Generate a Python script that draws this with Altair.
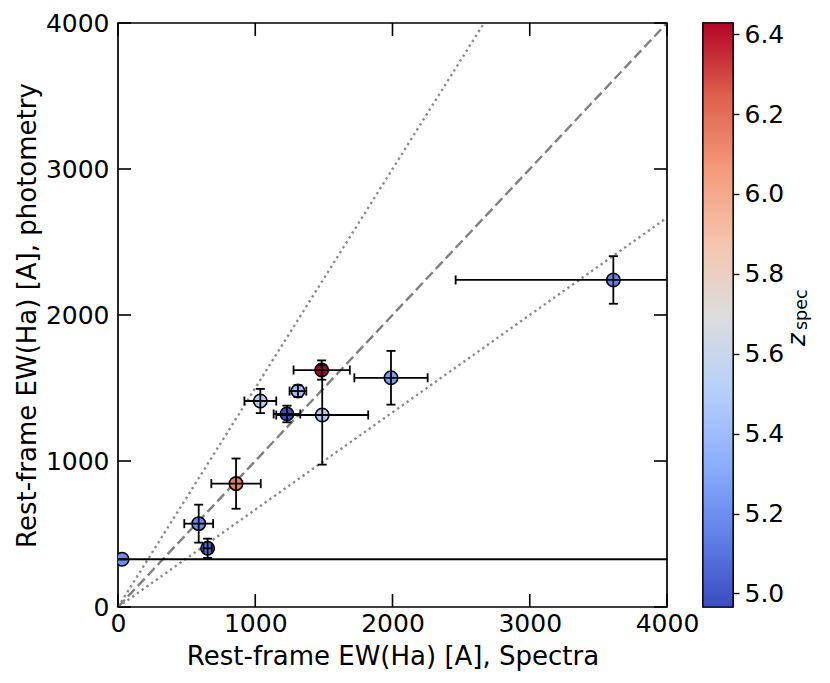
import altair as alt
import pandas as pd

# ---- data ----
ew_spec = [30, 653, 588, 860, 1037, 1231, 1311, 1484, 1488, 1989, 3609]
ew_phot = [327, 402, 571, 845, 1411, 1322, 1479, 1623, 1315, 1570, 2240]
ew_spec_err = [5000, 30, 105, 180, 116, 97, 61, 205, 335, 267, 1149]
ew_phot_err = [0, 66, 130, 172, 83, 57, 40, 66, 340, 184, 163]
z_spec = [5.19, 5.08, 5.18, 6.15, 5.50, 4.966, 5.40, 6.428, 5.49, 5.26, 5.16]

axis_ticks = [0, 1000, 2000, 3000, 4000]
cbar_ticks = [5.0, 5.2, 5.4, 5.6, 5.8, 6.0, 6.2, 6.4]
ratio_lines = [1.0, 1.5, 1 / 1.5]
line_styles = ["dashed", "dotted", "dotted"]
coolwarm = ["#3b4cc0", "#6282ea", "#8db0fe", "#b8d0f9", "#dddddd",
            "#f5c4ad", "#f49a7b", "#de604d", "#b40426"]

FONT = "DejaVu Sans"
FS = 25
TFS = 26
TICK = 13
LW = 1.8

df = pd.DataFrame({"x": ew_spec, "y": ew_phot, "xe": ew_spec_err,
                   "ye": ew_phot_err, "z": z_spec})
df["xlo"] = df["x"] - df["xe"]
df["xhi"] = df["x"] + df["xe"]
df["ylo"] = df["y"] - df["ye"]
df["yhi"] = df["y"] + df["ye"]

zmin, zmax = min(z_spec), max(z_spec)
stops = [i / (len(coolwarm) - 1) for i in range(len(coolwarm))]
cdomain = [zmin + s * (zmax - zmin) for s in stops]

xs = alt.Scale(domain=[0, 4000], nice=False, zero=False)
ys = alt.Scale(domain=[0, 4000], nice=False, zero=False)
xaxis = alt.Axis(values=axis_ticks, format="d", ticks=False, domain=False, grid=False,
                 labelFontSize=FS, labelPadding=4, labelFlush=False,
                 labelColor="black", title="Rest-frame EW(Ha) [A], Spectra",
                 titleFontSize=TFS, titleFontWeight="normal", titleColor="black",
                 titlePadding=7)
yaxis = alt.Axis(values=axis_ticks, format="d", ticks=False, domain=False, grid=False,
                 labelFontSize=FS, labelPadding=9, labelFlush=False,
                 labelColor="black", title="Rest-frame EW(Ha) [A], photometry",
                 titleFontSize=TFS, titleFontWeight="normal", titleColor="black",
                 titlePadding=5)


def X(f):
    return alt.X(f, type="quantitative", scale=xs, axis=xaxis)


def Y(f):
    return alt.Y(f, type="quantitative", scale=ys, axis=yaxis)


lines_df = pd.DataFrame({"x0": [0] * 3, "y0": [0] * 3,
                         "x1": [4000] * 3,
                         "y1": [4000 * r for r in ratio_lines],
                         "style": line_styles})

dashed = alt.Chart(lines_df[lines_df["style"] == "dashed"]).mark_rule(
    color="#808080", strokeWidth=2.4, strokeDash=[10, 4.5], clip=True
).encode(x=X("x0"), y=Y("y0"), x2="x1", y2="y1")

dotted = alt.Chart(lines_df[lines_df["style"] == "dotted"]).mark_rule(
    color="#8c8c8c", strokeWidth=2.4, strokeDash=[2.4, 3.4], clip=True
).encode(x=X("x0"), y=Y("y0"), x2="x1", y2="y1")

points = alt.Chart(df).mark_circle(
    size=180, stroke="black", strokeWidth=1.6, opacity=1, clip=True
).encode(
    x=X("x"), y=Y("y"),
    color=alt.Color("z:Q", scale=alt.Scale(domain=cdomain, range=coolwarm,
                                           interpolate="rgb"), legend=None),
)

xerr = alt.Chart(df).mark_rule(color="black", strokeWidth=LW, clip=True).encode(
    x=X("xlo"), x2="xhi", y=Y("y"))
yerr = alt.Chart(df).mark_rule(color="black", strokeWidth=LW, clip=True).encode(
    x=X("x"), y=Y("ylo"), y2="yhi")

capkw = dict(color="black", thickness=LW, size=9, clip=True, opacity=1)
cap_xlo = alt.Chart(df).mark_tick(orient="vertical", **capkw).encode(x=X("xlo"), y=Y("y"))
cap_xhi = alt.Chart(df).mark_tick(orient="vertical", **capkw).encode(x=X("xhi"), y=Y("y"))
cap_ylo = alt.Chart(df).mark_tick(orient="horizontal", **capkw).encode(x=X("x"), y=Y("ylo"))
cap_yhi = alt.Chart(df).mark_tick(orient="horizontal", **capkw).encode(x=X("x"), y=Y("yhi"))

# inward frame ticks (matplotlib direction='in', on all four sides)
tdf = pd.DataFrame({"v": axis_ticks, "lo": 0, "hi": 4000})
rkw = dict(color="black", strokeWidth=1.6)
t_left = alt.Chart(tdf).mark_rule(x2Offset=TICK, **rkw).encode(
    x=X("lo"), x2="lo", y=Y("v"))
t_right = alt.Chart(tdf).mark_rule(x2Offset=-TICK, **rkw).encode(
    x=X("hi"), x2="hi", y=Y("v"))
t_bottom = alt.Chart(tdf).mark_rule(y2Offset=-TICK, **rkw).encode(
    x=X("v"), y=Y("lo"), y2="lo")
t_top = alt.Chart(tdf).mark_rule(y2Offset=TICK, **rkw).encode(
    x=X("v"), y=Y("hi"), y2="hi")

main = alt.layer(
    dashed, dotted, points, xerr, yerr, cap_xlo, cap_xhi, cap_ylo, cap_yhi,
    t_left, t_right, t_bottom, t_top
).properties(width=549, height=584)

# ---- colorbar ----
cdf = pd.DataFrame({"lo": [zmin], "hi": [zmax]})
grad = alt.LinearGradient(
    gradient="linear",
    stops=[alt.GradientStop(offset=s, color=c) for s, c in zip(stops, coolwarm)],
    x1=0, x2=0, y1=1, y2=0,
)
bar = alt.Chart(cdf).mark_rect(fill=grad, stroke="black", strokeWidth=1.2).encode(
    y=alt.Y("lo:Q", scale=alt.Scale(domain=[zmin, zmax], nice=False, zero=False),
            axis=alt.Axis(orient="right", values=cbar_ticks, format=".1f",
                          tickSize=6, tickWidth=1.3, tickColor="black",
                          domain=False, grid=False, labelFontSize=FS,
                          labelColor="black", labelPadding=5, title=None)),
    y2="hi:Q",
)
ztxt = alt.Chart(cdf).mark_text(
    text="z", angle=270, align="left", baseline="alphabetic",
    fontSize=24, fontStyle="italic", font=FONT, color="black"
).encode(x=alt.value(101.5), y=alt.value(323))
stxt = alt.Chart(cdf).mark_text(
    text="spec", angle=270, align="left", baseline="alphabetic",
    fontSize=17.5, font=FONT, color="black"
).encode(x=alt.value(104), y=alt.value(307))

cbar = alt.layer(bar, ztxt, stxt).properties(width=30, height=584)

chart = alt.hconcat(main, cbar, spacing=1).properties(
    padding={"left": 5, "top": 2, "right": 5, "bottom": 5}
).configure(
    font=FONT
).configure_view(stroke="black", strokeWidth=1.7)

chart.save("out.html", embed_options={"renderer": "svg", "actions": False})
